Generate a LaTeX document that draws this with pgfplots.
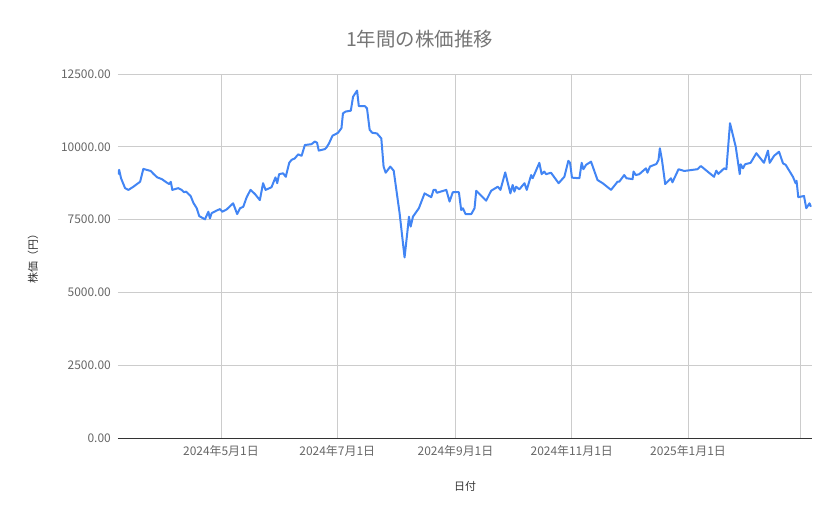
\documentclass[border=0pt]{standalone}
\usepackage{fontspec}
\setmainfont{Noto Sans CJK JP}
\usepackage{pgfplots}
\pgfplotsset{compat=1.18}
\definecolor{lineblue}{HTML}{4285F4}
\definecolor{gridgray}{HTML}{CCCCCC}
\definecolor{ticktext}{HTML}{666666}
\definecolor{titletext}{HTML}{757575}
\definecolor{labeltext}{HTML}{333333}

% x = day of 2024 (0 = 2024-01-01), y = price in yen
\pgfplotstableread{
day price
67.0 9050
67.6 9210
68.6 8920
70.7 8580
72.5 8520
75.1 8630
78.6 8800
80.3 9240
84.2 9170
85.6 9070
87.6 8950
90.0 8890
92.6 8770
93.9 8720
94.7 8800
95.5 8520
98.6 8580
100.4 8520
101.6 8440
102.7 8460
105.1 8310
106.5 8080
108.3 7890
109.6 7620
112.6 7510
114.4 7770
115.2 7540
116.1 7720
118.7 7810
120.5 7860
121.7 7770
124.0 7850
127.4 8060
129.5 7690
131.0 7890
132.7 7940
134.5 8270
136.5 8520
138.8 8380
141.4 8170
143.1 8750
144.4 8520
147.5 8610
149.6 8950
150.5 8750
151.5 9060
153.6 9090
155.0 8970
156.8 9450
158.0 9550
159.7 9600
161.5 9740
163.3 9690
165.0 10060
168.5 10090
170.2 10180
171.4 10140
172.3 9870
175.5 9920
176.3 9970
177.7 10120
179.5 10380
182.4 10480
184.2 10640
185.0 11150
186.4 11210
189.1 11240
190.3 11720
192.4 11930
193.3 11400
196.4 11400
197.6 11320
199.0 10580
200.4 10480
202.8 10460
205.1 10290
206.3 9320
207.4 9110
209.8 9320
211.6 9180
214.7 7720
217.3 6200
218.7 7030
219.6 7600
220.5 7260
221.7 7600
224.8 7890
227.8 8400
231.3 8270
232.5 8520
233.6 8520
234.2 8420
239.2 8520
240.9 8120
242.6 8440
245.8 8440
247.0 7830
247.9 7890
249.3 7690
252.3 7690
254.0 7890
254.9 8490
260.1 8150
262.7 8490
266.2 8630
267.6 8520
270.1 9120
272.8 8400
274.0 8690
274.9 8460
275.8 8630
277.5 8540
280.2 8750
281.4 8520
283.7 9030
284.5 8920
288.0 9450
289.2 9060
290.6 9150
291.5 9060
294.1 9110
298.1 8750
301.1 8970
303.2 9520
304.1 9450
305.1 8940
309.0 8920
310.2 9450
311.1 9230
312.5 9380
315.1 9490
318.5 8860
321.2 8750
325.6 8520
329.0 8800
329.9 8800
332.5 9030
333.7 8920
336.9 8890
337.4 9150
338.6 9030
340.4 9060
343.9 9260
344.7 9110
346.0 9320
349.4 9410
350.5 9550
351.2 9950
352.3 9550
354.0 8720
357.0 8920
357.8 8780
361.0 9230
364.0 9170
370.9 9230
372.7 9340
379.6 8970
380.8 9180
381.9 9070
384.9 9260
386.1 9230
388.0 10810
391.0 10000
393.1 9060
393.6 9400
394.8 9260
395.9 9400
398.8 9450
401.8 9780
405.8 9450
407.9 9870
408.8 9450
411.1 9690
413.7 9830
415.8 9430
417.2 9380
421.0 8970
422.4 8750
422.9 8830
423.8 8270
426.8 8310
428.0 7890
429.7 8060
430.4 7940
}\pricedata

\begin{document}
\begin{tikzpicture}
% page = 839 x 519, axis box from (118,74) to (812,438) in image pixels
\path[use as bounding box] (-118bp,-81bp) rectangle (721bp,438bp);
\begin{axis}[
    at={(0,0)}, anchor=south west,
    scale only axis,
    width=694bp, height=364bp,
    xmin=67, xmax=431,
    ymin=0, ymax=12500,
    xtick={121,182,244,305,366,425},
    xticklabels={2024年5月1日,2024年7月1日,2024年9月1日,2024年11月1日,2025年1月1日,{}},
    ytick={0,2500,5000,7500,10000,12500},
    yticklabel style={/pgf/number format/fixed, /pgf/number format/fixed zerofill,
        /pgf/number format/precision=2, /pgf/number format/1000 sep={},
        /pgf/number format/assume math mode=true},
    scaled y ticks=false,
    major tick length=0pt,
    xmajorgrids, ymajorgrids,
    grid style={gridgray, line width=0.75bp},
    axis x line*=bottom,
    axis y line*=left,
    x axis line style={draw=labeltext, line width=0.9bp, -},
    y axis line style={draw=none},
    tick label style={ticktext, font=\fontsize{12}{14}\selectfont},
    xticklabel style={anchor=north, inner sep=0pt, yshift=-7bp},
    yticklabel style={anchor=east, inner sep=0pt, xshift=-7bp},
    title={1年間の株価推移},
    title style={at={([yshift=29bp]axis description cs:0.4344,1)}, anchor=center,
        titletext, font=\fontsize{19.5}{23}\selectfont},
    xlabel={日付},
    xlabel style={at={([yshift=-48bp]axis description cs:0.5,0)}, anchor=center,
        labeltext, font=\fontsize{11}{13}\selectfont},
    ylabel={株価（円）},
    ylabel style={at={([xshift=-85bp]axis description cs:0,0.5)}, anchor=center,
        labeltext, font=\fontsize{11}{13}\selectfont},
]
\addplot[lineblue, line width=2bp, line join=round, no marks] table[x=day, y=price] {\pricedata};
\end{axis}
\end{tikzpicture}
\end{document}
